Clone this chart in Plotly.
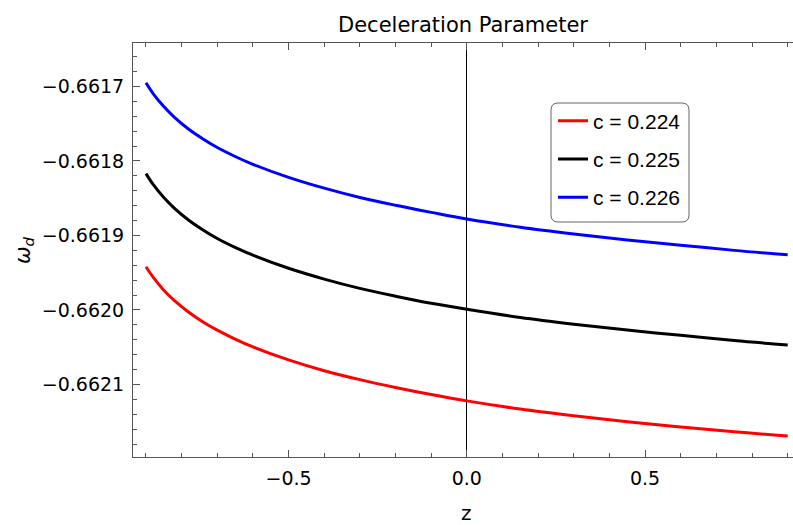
import plotly.graph_objects as go

# ---- data ----
z = [-0.90, -0.88, -0.85, -0.82, -0.78, -0.74, -0.70, -0.65, -0.60, -0.50, -0.40,
     -0.30, -0.20, -0.10, 0.00, 0.15, 0.30, 0.45, 0.60, 0.75, 0.90]

w_c224 = [-0.661942, -0.661956, -0.6619735, -0.6619875, -0.662003, -0.662016, -0.662027,
          -0.662039, -0.6620495, -0.662067, -0.6620815, -0.6620935, -0.662104, -0.6621135,
          -0.662122, -0.662133, -0.662142, -0.662150, -0.662157, -0.6621635, -0.662169]

w_c225 = [-0.661817, -0.6618315, -0.661849, -0.6618635, -0.6618795, -0.6618925, -0.661904,
          -0.661916, -0.6619265, -0.661944, -0.6619585, -0.661971, -0.6619815, -0.661991,
          -0.661999, -0.662010, -0.662019, -0.662027, -0.662034, -0.662041, -0.662047]

w_c226 = [-0.661695, -0.6617095, -0.661727, -0.6617415, -0.6617575, -0.6617705, -0.661782,
          -0.661794, -0.6618045, -0.661822, -0.6618365, -0.661849, -0.6618595, -0.661869,
          -0.661878, -0.661889, -0.661898, -0.661906, -0.661913, -0.661920, -0.661926]

series_names = ["c = 0.224", "c = 0.225", "c = 0.226"]
series_colors = ["#ff0000", "#000000", "#0000ff"]

x_tickvals = [-0.5, 0.0, 0.5]
y_tickvals = [-0.6617, -0.6618, -0.6619, -0.6620, -0.6621]

# ---- figure ----
W, H = 793, 525
ML, MR, MT, MB = 133, 0, 43, 68
PW, PH = W - ML - MR, H - MT - MB


def px_x(px):
    return (px - ML) / PW


def px_y(py):
    return (H - MB - py) / PH


fig = go.Figure()
for name, col, ys in zip(series_names, series_colors, [w_c224, w_c225, w_c226]):
    fig.add_trace(go.Scatter(
        x=z, y=ys, mode="lines", name=name, legendgroup=name,
        line=dict(color=col, width=3, shape="spline", smoothing=1.0),
    ))

frame_col = "#555555"
tick_font = dict(family="DejaVu Sans", size=19, color="#000000")

fig.update_layout(
    width=W, height=H,
    margin=dict(l=ML, r=MR, t=MT, b=MB, pad=0, autoexpand=False),
    paper_bgcolor="white", plot_bgcolor="white",
    title=dict(text="Deceleration Parameter", x=0.5, xref="paper", xanchor="center",
               y=1 - 25 / H, yanchor="middle",
               font=dict(family="DejaVu Sans", size=21, color="#000000")),
    showlegend=True,
    legend=dict(
        x=px_x(553), xanchor="left",
        y=px_y(100.5), yanchor="top", yref="paper",
        bgcolor="rgba(0,0,0,0)", borderwidth=0,
        font=dict(family="Liberation Sans", size=21, color="#000000"),
        itemwidth=30, tracegroupgap=8,
    ),
    xaxis=dict(
        range=[-0.9364, 0.9149], showgrid=False, automargin=False,
        zeroline=True, zerolinecolor="#000000", zerolinewidth=1,
        showline=True, linecolor=frame_col, linewidth=1, mirror="ticks",
        ticks="inside", ticklen=7, tickcolor=frame_col, tickwidth=1,
        tickvals=x_tickvals, tickformat=".1f", tickfont=tick_font,
        ticklabelstandoff=4,
        minor=dict(dtick=0.1, tick0=0, ticks="inside", ticklen=4, tickcolor=frame_col, showgrid=False),
    ),
    yaxis=dict(
        range=[-0.66219731, -0.66164167], showgrid=False, zeroline=False, automargin=False,
        showline=True, linecolor=frame_col, linewidth=1, mirror=False,
        ticks="inside", ticklen=7, tickcolor=frame_col, tickwidth=1,
        tickvals=y_tickvals, tickformat=".4f", tickfont=tick_font,
        ticklabelstandoff=4,
        minor=dict(dtick=0.00002, tick0=-0.6617, ticks="inside", ticklen=4, tickcolor=frame_col, showgrid=False),
    ),
    annotations=[
        dict(text="z", xref="paper", yref="paper", x=px_x(466.7), y=px_y(513),
             xanchor="center", yanchor="middle", showarrow=False,
             font=dict(family="DejaVu Sans", size=20, color="#000000")),
        dict(text="<i>ω<sub>d</sub></i>", xref="paper", yref="paper", x=px_x(24), y=px_y(250),
             xanchor="center", yanchor="middle", showarrow=False, textangle=-90,
             font=dict(family="DejaVu Sans", size=21, color="#000000")),
    ],
)

# rounded legend frame (pixel box 551..689 x 103..222)
bx0, bx1 = px_x(551), px_x(689)
by1, by0 = px_y(103), px_y(222)
rx, ry = 7 / PW, 7 / PH
path = (f"M {bx0+rx},{by1} L {bx1-rx},{by1} Q {bx1},{by1} {bx1},{by1-ry} "
        f"L {bx1},{by0+ry} Q {bx1},{by0} {bx1-rx},{by0} L {bx0+rx},{by0} "
        f"Q {bx0},{by0} {bx0},{by0+ry} L {bx0},{by1-ry} Q {bx0},{by1} {bx0+rx},{by1} Z")
fig.add_shape(type="path", path=path, xref="paper", yref="paper",
              line=dict(color="#666666", width=1), fillcolor="white", layer="below")

fig.write_html("out.html", config={"displayModeBar": False},
               post_script="document.body.style.margin='0';document.body.style.overflow='hidden';")
